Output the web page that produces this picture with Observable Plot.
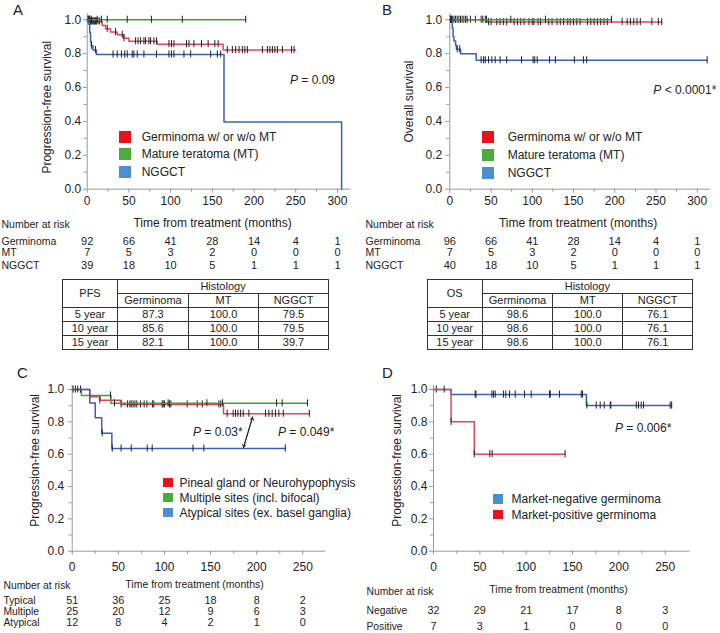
<!DOCTYPE html>
<html><head><meta charset="utf-8">
<script src="https://cdn.jsdelivr.net/npm/d3@7"></script>
<script src="https://cdn.jsdelivr.net/npm/@observablehq/plot@0.6"></script>
<style>
body{margin:0;background:#fff;font-family:"Liberation Sans",Arial,sans-serif;}
#root{position:relative;width:720px;height:633px;overflow:hidden;color:#222}
.letter{position:absolute;font-size:15px;line-height:15px}
.leg{position:absolute;font-size:12px}
.leg .row{display:flex;align-items:center;white-space:nowrap}
.pv{position:absolute;font-size:12px;white-space:nowrap;line-height:14px}
table.st{position:absolute;border-collapse:collapse;font-size:11px;table-layout:fixed}
table.st td{border:1px solid #333;text-align:center;padding:0;height:13px;line-height:13px;white-space:nowrap}
</style></head>
<body><div id="root"></div>
<script>
// ---------- colours ----------
const lineRed = "#e2475a", lineGreen = "#3aa13a", lineBlue = "#3c5fb4";
const legRed = "#e8121c", legGreen = "#49ad3c", legBlue = "#4b8fd0";

// ---------- Panel A : PFS by histology ----------
const pfsGermT = [0, 4, 18, 22, 28, 36, 44, 50, 84, 163];
const pfsGermS = [1, 0.99, 0.966, 0.947, 0.927, 0.911, 0.891, 0.873, 0.856, 0.821];
const pfsGermEnd = 250;
const pfsGermCens = [1,2,3,4,5,6,7,8,9,10,11,13,15,24,34,42,44,58,61,64,68,70,74,76,80,83,98,101,104,119,122,128,137,145,153,157,168,174,178,182,186,189,192,210,216,219,222,225,228,234,245,248];
const pfsMTT = [0];
const pfsMTS = [1];
const pfsMTEnd = 190;
const pfsMTCens = [2,5,12,17,24,48,77,114,190];
const pfsNgT = [0, 1.5, 3, 4, 5, 7, 11, 164, 305];
const pfsNgS = [1, 0.974, 0.923, 0.872, 0.846, 0.821, 0.795, 0.397, 0];
const pfsNgEnd = 305;
const pfsNgCens = [5,10,31,36,41,45,48,54,56,60,68,83,98,101,104,116,124,148,156,160];

// ---------- Panel B : OS by histology ----------
const osGermT = [0, 45];
const osGermS = [1, 0.986];
const osGermEnd = 257;
const osGermCens = [1,3,7,9,11,15,17,19,25,31,38,43,44.5,47,50,57,61,65,69,78,82,86,90,96,100,102,107,110,120,124,130,134,138,143,146,150,154,158,167,171,175,179,183,187,191,209,215,219,223,227,231,245,253,257];
const osMTT = [0];
const osMTS = [1];
const osMTEnd = 196;
const osMTCens = [5,13,21,40,74,116,196];
const osNgT = [0, 3, 4, 5, 7, 8, 13, 32];
const osNgS = [1, 0.95, 0.9, 0.875, 0.85, 0.826, 0.799, 0.761];
const osNgEnd = 312;
const osNgCens = [1,2,9,12,38,41,43,47,51,55,61,69,87,101,103,106,121,128,151,162,166,312];

// ---------- Panel C : PFS by tumour site ----------
const typT = [0, 19, 30, 53, 164];
const typS = [1, 0.955, 0.933, 0.908, 0.85];
const typEnd = 257;
const typCens = [1,3.5,19,30,53,60,62.5,64,66,68,70,74,78,81,87,88.5,97.5,98.6,100,105.5,107,124.6,135.5,141,159,161,168,174.5,177,179.6,182.5,185.4,191.5,209.6,213.2,216.8,220.4,224,228.8,257];
const mulT = [0, 10, 42];
const mulS = [1, 0.963, 0.915];
const mulEnd = 255;
const mulCens = [9,41.5,45.8,104,146,163,221.5,227.6,255];
const atyT = [0, 19, 25, 32, 43];
const atyS = [1, 0.917, 0.825, 0.73, 0.635];
const atyEnd = 231;
const atyCens = [6,32.5,43.4,53,64,81.3,86.7,131,142.7,231];

// ---------- Panel D : PFS by marker ----------
const negT = [0, 19, 165];
const negS = [1, 0.969, 0.901];
const negEnd = 257;
const negCens = [3,45,45.8,63,64.7,66.6,75.5,78,82,88.2,98.2,105.4,125.2,126,136,159.4,160.8,165.5,175.6,179.9,184.2,190.7,191.4,218.8,221.2,224.1,226.6,255.4,257];
const posT = [0, 19, 44];
const posS = [1, 0.8, 0.6];
const posEnd = 142;
const posCens = [11.5,19,44,60.8,63.3,142];

// ---------- risk tables ----------
const riskTimesAB = [0,50,100,150,200,250,300];
const riskGermA = [92,66,41,28,14,4,1];
const riskMTA = [7,5,3,2,0,0,0];
const riskNgA = [39,18,10,5,1,1,1];
const riskGermB = [96,66,41,28,14,4,1];
const riskMTB = [7,5,3,2,0,0,0];
const riskNgB = [40,18,10,5,1,1,1];
const riskTimesCD = [0,50,100,150,200,250];
const riskTypical = [51,36,25,18,8,2];
const riskMultiple = [25,20,12,9,6,3];
const riskAtypical = [12,8,4,2,1,0];
const riskNegative = [32,29,21,17,8,3];
const riskPositive = [7,3,1,0,0,0];

// ---------- survival tables ----------
const tabRows = ["5 year","10 year","15 year"];
const pfsTabGerm = ["87.3","85.6","82.1"];
const pfsTabMT = ["100.0","100.0","100.0"];
const pfsTabNg = ["79.5","79.5","39.7"];
const osTabGerm = ["98.6","98.6","98.6"];
const osTabMT = ["100.0","100.0","100.0"];
const osTabNg = ["76.1","76.1","76.1"];

// ---------- ticks ----------
const xTicksAB = [0,50,100,150,200,250,300];
const xMinorAB = [25,75,125,175,225,275];
const xTicksCD = [0,50,100,150,200,250];
const xMinorCD = [25,75,125,175,225];
const yTicks = [0,0.2,0.4,0.6,0.8,1.0];
const yMinor = [0.1,0.3,0.5,0.7,0.9];

// annotation arrow in C (data units)
const arrowC = [{x1: 195.5, y1: 0.829, x2: 185.7, y2: 0.641}];

// ---------- helpers ----------
function stepPoints(T, S, end) {
  const pts = T.map((t, i) => ({x: t, y: S[i]}));
  pts.push({x: end, y: S[S.length - 1]});
  return pts;
}
function survAt(T, S, t) {
  let s = S[0];
  for (let i = 0; i < T.length; i++) if (T[i] <= t) s = S[i];
  return s;
}
function curveMarks(T, S, end, cens, color, h) {
  return [
    Plot.line(stepPoints(T, S, end), {x: "x", y: "y", curve: "step-after", stroke: color, strokeWidth: 1.5}),
    Plot.ruleX(cens, {x: d => d, y1: d => survAt(T, S, d) - h, y2: d => survAt(T, S, d) + h, stroke: "#222", strokeWidth: 1})
  ];
}
const fmtY = d3.format(".1f");

function panel(o) {
  const marks = [
    Plot.ruleY([0], {stroke: "#999"}),
    Plot.ruleX([0], {stroke: "#999"}),
    Plot.axisX({ticks: o.xTicks, tickSize: 4, tickPadding: o.xPad, stroke: "#999", fill: "#222", fontSize: 12, label: null}),
    Plot.axisX({ticks: o.xMinor, tickSize: 3, tickFormat: () => "", stroke: "#999", label: null}),
    Plot.axisY({ticks: yTicks, tickSize: 4, tickPadding: o.yPad, stroke: "#999", fill: "#222", fontSize: 12, tickFormat: fmtY, label: null}),
    Plot.axisY({ticks: yMinor, tickSize: 3, tickFormat: () => "", stroke: "#999", label: null}),
    ...o.curves,
    Plot.text([o.ylabel], {frameAnchor: "left", textAnchor: "middle", rotate: -90, dx: o.ylabelDx, dy: o.ylabelDy, fontSize: 12, fill: "#222"}),
    Plot.text(["Time from treatment (months)"], {frameAnchor: "bottom", textAnchor: "middle", dx: o.titleDx, dy: o.titleDy, fontSize: o.titleSize, fill: "#222"}),
    Plot.text(["Number at risk"], {frameAnchor: "bottom-left", textAnchor: "start", dx: o.labelDx, dy: o.headDy, fontSize: o.riskSize, fill: "#222"}),
  ];
  o.risk.forEach((r, k) => {
    marks.push(Plot.text([r.label], {frameAnchor: "bottom-left", textAnchor: "start", dx: o.labelDx, dy: o.rowDys[k], fontSize: o.riskSize, fill: "#222"}));
    marks.push(Plot.text(o.riskTimes, {x: d => d, text: (d, i) => String(r.values[i]), frameAnchor: "bottom", dy: o.rowDys[k], fontSize: o.riskSize + 0.5, fill: "#222"}));
  });
  if (o.extra) marks.push(...o.extra);
  return Plot.plot({
    width: o.width, height: o.height,
    marginLeft: o.ml, marginRight: o.mr, marginTop: o.mt, marginBottom: o.mb,
    x: {domain: [0, o.xmax], axis: null},
    y: {domain: [0, o.ymax], axis: null},
    style: {fontFamily: "'Liberation Sans', Arial, sans-serif", background: "transparent", overflow: "visible", color: "#222"},
    marks
  });
}

const root = document.getElementById("root");
function place(el, left, top) {
  el.style.position = "absolute"; el.style.left = left + "px"; el.style.top = top + "px";
  root.appendChild(el); return el;
}

// ---------- Panel A ----------
const hAB = 0.021, hCD = 0.022;
place(panel({
  width: 360, height: 275, ml: 86.7, mr: 9.7, mt: 13.3, mb: 86.3, xmax: 316, ymax: 1.035,
  xTicks: xTicksAB, xMinor: xMinorAB, xPad: 3, yPad: 2,
  curves: [
    ...curveMarks(pfsGermT, pfsGermS, pfsGermEnd, pfsGermCens, lineRed, hAB),
    ...curveMarks(pfsMTT, pfsMTS, pfsMTEnd, pfsMTCens, lineGreen, hAB),
    ...curveMarks(pfsNgT, pfsNgS, pfsNgEnd, pfsNgCens, lineBlue, hAB)
  ],
  ylabel: "Progression-free survival", ylabelDx: -40, ylabelDy: 5.7,
  titleDx: -6.5, titleDy: 37.5, titleSize: 12,
  labelDx: -85.7, headDy: 39, rowDys: [55.5, 67.2, 79.3], riskSize: 10.5,
  riskTimes: riskTimesAB,
  risk: [{label: "Germinoma", values: riskGermA}, {label: "MT", values: riskMTA}, {label: "NGGCT", values: riskNgA}]
}), 0, 0);

// ---------- Panel B ----------
place(panel({
  width: 360, height: 275, ml: 89.3, mr: 10.1, mt: 13.3, mb: 86.3, xmax: 316, ymax: 1.035,
  xTicks: xTicksAB, xMinor: xMinorAB, xPad: 3, yPad: 3.5,
  curves: [
    ...curveMarks(osGermT, osGermS, osGermEnd, osGermCens, lineRed, hAB),
    ...curveMarks(osMTT, osMTS, osMTEnd, osMTCens, lineGreen, hAB),
    ...curveMarks(osNgT, osNgS, osNgEnd, osNgCens, lineBlue, hAB)
  ],
  ylabel: "Overall survival", ylabelDx: -41, ylabelDy: 0,
  titleDx: -2, titleDy: 37.5, titleSize: 12,
  labelDx: -84.3, headDy: 39, rowDys: [55.5, 67.2, 79.3], riskSize: 10.5,
  riskTimes: riskTimesAB,
  risk: [{label: "Germinoma", values: riskGermB}, {label: "MT", values: riskMTB}, {label: "NGGCT", values: riskNgB}]
}), 360, 0);

// ---------- Panel C ----------
place(panel({
  width: 360, height: 283, ml: 71.7, mr: 34.6, mt: 35, mb: 82.3, xmax: 275, ymax: 1.025,
  xTicks: xTicksCD, xMinor: xMinorCD, xPad: 7, yPad: 4,
  curves: [
    ...curveMarks(typT, typS, typEnd, typCens, lineRed, hCD),
    ...curveMarks(mulT, mulS, mulEnd, mulCens, lineGreen, hCD),
    ...curveMarks(atyT, atyS, atyEnd, atyCens, lineBlue, hCD)
  ],
  extra: [
    Plot.arrow(arrowC, {x1: "x1", y1: "y1", x2: "x2", y2: "y2", stroke: "#222", strokeWidth: 1, headLength: 5, bend: 0}),
    Plot.arrow(arrowC, {x1: "x2", y1: "y2", x2: "x1", y2: "y1", stroke: "#222", strokeWidth: 1, headLength: 5, bend: 0})
  ],
  ylabel: "Progression-free survival", ylabelDx: -36.7, ylabelDy: -8,
  titleDx: -4.5, titleDy: 37, titleSize: 10.5,
  labelDx: -68.7, headDy: 38, rowDys: [52.3, 63.6, 74.6], riskSize: 10.3,
  riskTimes: riskTimesCD,
  risk: [{label: "Typical", values: riskTypical}, {label: "Multiple", values: riskMultiple}, {label: "Atypical", values: riskAtypical}]
}), 0, 350);

// ---------- Panel D ----------
place(panel({
  width: 360, height: 283, ml: 73, mr: 30.3, mt: 35, mb: 82.3, xmax: 277, ymax: 1.025,
  xTicks: xTicksCD, xMinor: xMinorCD, xPad: 7, yPad: 2,
  curves: [
    ...curveMarks(negT, negS, negEnd, negCens, lineBlue, hCD),
    ...curveMarks(posT, posS, posEnd, posCens, lineRed, hCD)
  ],
  ylabel: "Progression-free survival", ylabelDx: -36.3, ylabelDy: -8,
  titleDx: -3.3, titleDy: 42, titleSize: 10.5,
  labelDx: -67, headDy: 43.5, rowDys: [62.5, 78.5], riskSize: 10.3,
  riskTimes: riskTimesCD,
  risk: [{label: "Negative", values: riskNegative}, {label: "Positive", values: riskPositive}]
}), 360, 350);

// ---------- letters ----------
[["A", 13, 2], ["B", 382, 2], ["C", 17, 365], ["D", 382, 365]].forEach(([t, x, y]) => {
  const d = document.createElement("div"); d.className = "letter"; d.textContent = t; place(d, x, y);
});

// ---------- legends ----------
function legend(items, left, top, sw, gap, rowH) {
  const d = document.createElement("div"); d.className = "leg";
  items.forEach(([c, t]) => {
    const r = document.createElement("div"); r.className = "row"; r.style.height = rowH + "px";
    const s = document.createElement("span"); s.style.cssText = `display:inline-block;width:${sw}px;height:${sw}px;background:${c};margin-right:${gap}px`;
    const l = document.createElement("span"); l.textContent = t;
    r.appendChild(s); r.appendChild(l); d.appendChild(r);
  });
  return place(d, left, top);
}
const histLegend = [[legRed, "Germinoma w/ or w/o MT"], [legGreen, "Mature teratoma (MT)"], [legBlue, "NGGCT"]];
legend(histLegend, 119, 127.9, 12, 10.7, 17.7);
legend(histLegend, 482, 127.7, 12, 13.7, 18);
legend([[legRed, "Pineal gland or Neurohypophysis"], [legGreen, "Multiple sites (incl. bifocal)"], [legBlue, "Atypical sites (ex. basel ganglia)"]], 163, 475.2, 9.5, 7, 15);
legend([[legBlue, "Market-negative germinoma"], [legRed, "Market-positive germinoma"]], 493.3, 491.2, 9.5, 8.7, 15.7);

// ---------- p-values ----------
[["<i>P</i> = 0.09", 290, 73], ["<i>P</i> &lt; 0.0001*", 653.3, 83], ["<i>P</i> = 0.03*", 193, 424.7], ["<i>P</i> = 0.049*", 278, 424.7], ["<i>P</i> = 0.006*", 615, 421]].forEach(([h, x, y]) => {
  const d = document.createElement("div"); d.className = "pv"; d.innerHTML = h; place(d, x, y);
});

// ---------- survival tables ----------
function survTable(head, germ, mt, ng, left, widths) {
  const t = document.createElement("table"); t.className = "st";
  const cg = document.createElement("colgroup");
  widths.forEach(w => { const c = document.createElement("col"); c.style.width = w + "px"; cg.appendChild(c); });
  t.appendChild(cg);
  let html = `<tr><td rowspan="2">${head}</td><td colspan="3">Histology</td></tr><tr><td>Germinoma</td><td>MT</td><td>NGGCT</td></tr>`;
  tabRows.forEach((r, i) => { html += `<tr><td>${r}</td><td>${germ[i]}</td><td>${mt[i]}</td><td>${ng[i]}</td></tr>`; });
  t.insertAdjacentHTML("beforeend", html);
  t.style.width = widths.reduce((a, b) => a + b, 0) + "px";
  return place(t, left, 279);
}
survTable("PFS", pfsTabGerm, pfsTabMT, pfsTabNg, 62, [55, 71, 70, 70]);
survTable("OS", osTabGerm, osTabMT, osTabNg, 426.7, [55, 70.6, 70, 69.7]);
</script>
</body></html>
